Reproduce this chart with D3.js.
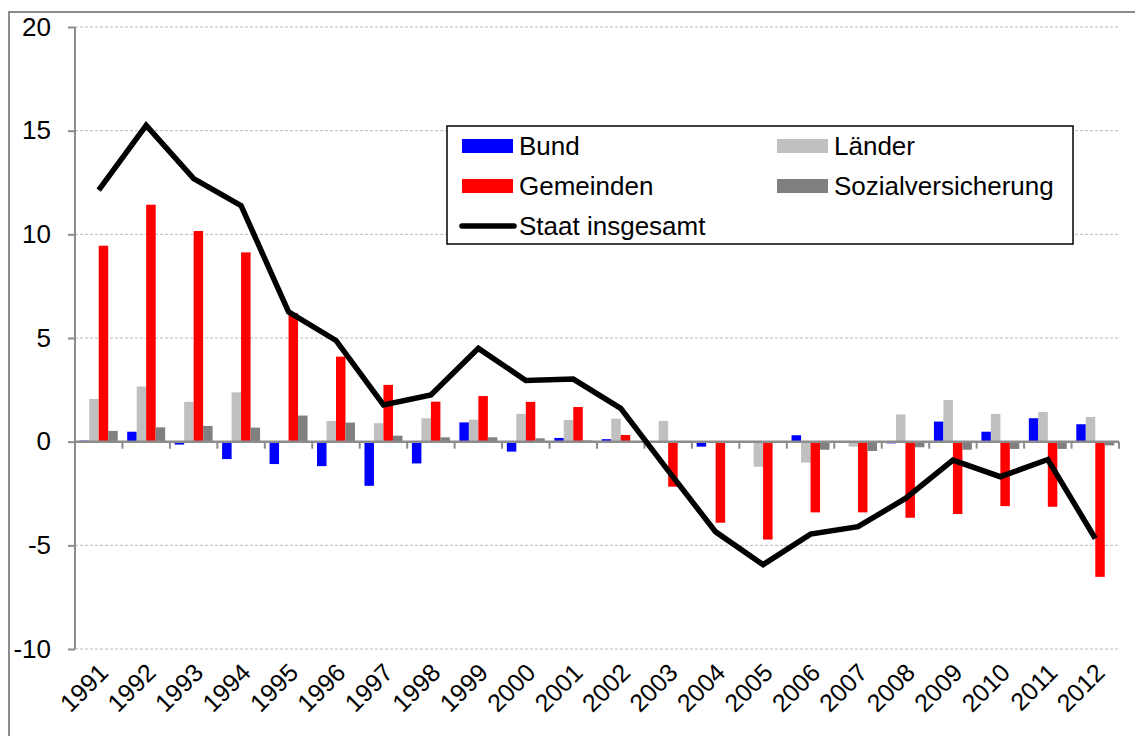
<!DOCTYPE html>
<html>
<head>
<meta charset="utf-8">
<script src="https://cdn.jsdelivr.net/npm/d3@7"></script>
<style>
  body { margin: 0; background: #fff; }
  svg { font-family: "Liberation Sans", Arial, sans-serif; }
</style>
</head>
<body>
<svg id="chart" width="1135" height="736"></svg>
<script>
// Finanzierungssalden nach Ebenen
var years = ["1991", "1992", "1993", "1994", "1995", "1996", "1997", "1998", "1999", "2000", "2001",
             "2002", "2003", "2004", "2005", "2006", "2007", "2008", "2009", "2010", "2011", "2012"];

var bund = [0.05, 0.48, -0.14, -0.84, -1.08, -1.18, -2.13, -1.05, 0.93, -0.48, 0.18,
            0.12, 0.03, -0.24, 0.02, 0.31, 0.02, -0.08, 0.97, 0.48, 1.13, 0.84];
var laender = [2.06, 2.66, 1.92, 2.38, -0.05, 1.0, 0.89, 1.13, 1.06, 1.34, 1.05,
               1.11, 1.0, -0.03, -1.21, -1.01, -0.24, 1.31, 2.01, 1.34, 1.43, 1.19];
var gemeinden = [9.45, 11.43, 10.16, 9.13, 6.2, 4.1, 2.74, 1.93, 2.2, 1.92, 1.67,
                 0.32, -2.17, -3.91, -4.72, -3.41, -3.41, -3.67, -3.49, -3.11, -3.14, -6.52];
var sozial = [0.52, 0.69, 0.76, 0.68, 1.26, 0.92, 0.29, 0.21, 0.21, 0.16, 0.06,
              -0.03, -0.05, -0.03, -0.02, -0.39, -0.45, -0.27, -0.39, -0.35, -0.35, -0.18];
var staat = [12.13, 15.25, 12.69, 11.38, 6.26, 4.88, 1.77, 2.25, 4.5, 2.95, 3.02,
             1.61, -1.4, -4.35, -5.93, -4.46, -4.1, -2.74, -0.89, -1.69, -0.86, -4.67];

var yTicks = [20, 15, 10, 5, 0, -5, -10];

var series = [
    {name: "Bund", values: bund, color: "#0000ff"},
    {name: "Länder", values: laender, color: "#c0c0c0"},
    {name: "Gemeinden", values: gemeinden, color: "#ff0000"},
    {name: "Sozialversicherung", values: sozial, color: "#808080"}
];

var fontSize = 26;
var margin = {top: 27, right: 16, bottom: 87, left: 75};
var width = 1135 - margin.left - margin.right;
var height = 736 - margin.top - margin.bottom;

var svg = d3.select("#chart");

// outer frame
svg.append("rect")
    .attr("x", 9).attr("y", 12)
    .attr("width", 1140).attr("height", 740)
    .attr("fill", "none")
    .attr("stroke", "#8c8c8c")
    .attr("stroke-width", 2);

var g = svg.append("g")
    .attr("transform", "translate(" + margin.left + "," + margin.top + ")");

var x = d3.scaleBand().domain(years).range([0, width]);
var xInner = d3.scaleBand().domain(series.map(function(s) { return s.name; }))
    .range([0, x.bandwidth()]).paddingOuter(0.5);
var y = d3.scaleLinear().domain([-10, 20]).range([height, 0]);

// gridlines
g.append("g").selectAll("line")
    .data(yTicks)
    .join("line")
    .attr("x1", 0).attr("x2", width)
    .attr("y1", function(d) { return y(d); })
    .attr("y2", function(d) { return y(d); })
    .attr("stroke", "#b8b8b8")
    .attr("stroke-width", 1)
    .attr("stroke-dasharray", "3,2");

// bars
series.forEach(function(s) {
    g.append("g").selectAll("rect")
        .data(s.values)
        .join("rect")
        .attr("x", function(d, i) { return x(years[i]) + xInner(s.name); })
        .attr("width", xInner.bandwidth())
        .attr("y", function(d) { return y(Math.max(0, d)); })
        .attr("height", function(d) { return Math.abs(y(d) - y(0)); })
        .attr("fill", s.color);
});

// y axis
var yAxis = g.append("g")
    .call(d3.axisLeft(y).tickValues(yTicks).tickSize(7).tickPadding(17).tickFormat(d3.format("d")));
yAxis.selectAll("path, line").attr("stroke", "#8c8c8c").attr("stroke-width", 2);
yAxis.select(".domain").attr("d", "M0," + y(-10) + "V" + y(20));
yAxis.selectAll("text").attr("font-size", fontSize).attr("fill", "#000")
    .attr("font-family", "Liberation Sans, Arial, sans-serif")
    .text(function(d) { return String(d); });

// x axis at zero
var xAxis = g.append("g")
    .attr("transform", "translate(0," + y(0) + ")");
xAxis.append("line")
    .attr("x1", 0).attr("x2", width)
    .attr("stroke", "#8c8c8c").attr("stroke-width", 2.5);
xAxis.selectAll(".tk")
    .data(d3.range(years.length + 1))
    .join("line")
    .attr("class", "tk")
    .attr("x1", function(i) { return i * x.step(); })
    .attr("x2", function(i) { return i * x.step(); })
    .attr("y1", 0).attr("y2", 7)
    .attr("stroke", "#8c8c8c").attr("stroke-width", 2);

// year labels, rotated
g.append("g").selectAll("text")
    .data(years)
    .join("text")
    .attr("transform", function(d) {
        return "translate(" + (x(d) + x.bandwidth() / 2 + 5) + "," + (height + 19) + ") rotate(-45)";
    })
    .attr("text-anchor", "end")
    .attr("dy", "0.35em")
    .attr("font-size", fontSize - 1)
    .text(function(d) { return d; });

// total line
var line = d3.line()
    .x(function(d, i) { return x(years[i]) + x.bandwidth() / 2; })
    .y(function(d) { return y(d); });
g.append("path")
    .datum(staat)
    .attr("d", line)
    .attr("fill", "none")
    .attr("stroke", "#000")
    .attr("stroke-width", 5.5)
    .attr("stroke-linejoin", "miter");

// legend
var legend = svg.append("g").attr("transform", "translate(447,126)");
legend.append("rect")
    .attr("width", 626).attr("height", 118)
    .attr("fill", "#fff").attr("stroke", "#000").attr("stroke-width", 1.5);

var legendItems = [
    {name: "Bund", color: "#0000ff", col: 0, row: 0},
    {name: "Länder", color: "#c0c0c0", col: 1, row: 0},
    {name: "Gemeinden", color: "#ff0000", col: 0, row: 1},
    {name: "Sozialversicherung", color: "#808080", col: 1, row: 1},
    {name: "Staat insgesamt", color: "#000", col: 0, row: 2, isLine: true}
];

var item = legend.selectAll(".item")
    .data(legendItems)
    .join("g")
    .attr("class", "item")
    .attr("transform", function(d) {
        return "translate(" + (15 + d.col * 315) + "," + (20 + d.row * 40) + ")";
    });
item.filter(function(d) { return !d.isLine; })
    .append("rect")
    .attr("x", 0).attr("y", -7)
    .attr("width", 51).attr("height", 14)
    .attr("fill", function(d) { return d.color; });
item.filter(function(d) { return d.isLine; })
    .append("line")
    .attr("x1", 0).attr("x2", 52)
    .attr("stroke", "#000").attr("stroke-width", 5.5)
    .attr("stroke-linecap", "round");
item.append("text")
    .attr("x", 57)
    .attr("dy", "0.35em")
    .attr("font-size", fontSize)
    .text(function(d) { return d.name; });
</script>
</body>
</html>
